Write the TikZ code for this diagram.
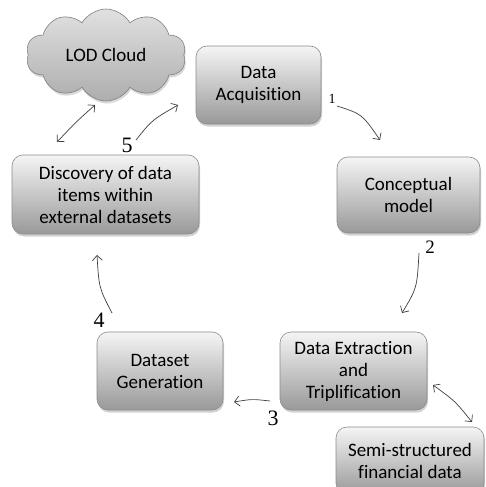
\documentclass[tikz,border=0pt]{standalone}
\usepackage{fontspec}
\setmainfont[Ligatures=NoCommon]{Carlito}
\newfontfamily\numfont{Liberation Serif}
\usetikzlibrary{shapes.symbols,shadows,arrows.meta}
\begin{document}
\begin{tikzpicture}[x=1pt,y=-1pt,
  box/.style={draw=black!45, line width=0.6pt, rounded corners=11pt,
    top color=black!4, bottom color=black!40, align=center,
    font=\fontsize{19}{22}\selectfont, inner sep=0pt,
    drop shadow={opacity=0.35, shadow xshift=1pt, shadow yshift=-2.5pt}},
  conn/.style={draw=black!75, line width=0.7pt, -{Straight Barb[length=5pt,width=10pt]}},
  dconn/.style={draw=black!75, line width=0.7pt, {Straight Barb[length=5pt,width=10pt]}-{Straight Barb[length=5pt,width=10pt]}},
  num/.style={font=\numfont\fontsize{#1}{#1}\selectfont, inner sep=0pt}]
\useasboundingbox (0,0) rectangle (485,487);
\clip (0,0) rectangle (485,487);
\fill[white] (0,0) rectangle (485,487);

\node[cloud, cloud puffs=10, cloud puff arc=120, aspect=1.8, draw=black!50, line width=0.6pt,
  top color=black!12, bottom color=black!32, minimum width=160pt, minimum height=92pt,
  font=\fontsize{19}{22}\selectfont, inner sep=0pt,
  drop shadow={opacity=0.3, shadow xshift=1pt, shadow yshift=-2.5pt}] (lod) at (106,55) {LOD Cloud};

\node[box, minimum width=125pt, minimum height=78pt] (acq) at (258.5,85) {Data\\Acquisition};
\node[box, minimum width=143pt, minimum height=76pt] (conc) at (408.5,195) {Conceptual\\model};
\node[box, minimum width=187pt, minimum height=79pt] (disc) at (105.5,194.5) {Discovery of data\\items within\\external datasets};
\node[box, minimum width=126pt, minimum height=78pt] (gen) at (160,371) {Dataset\\Generation};
\node[box, minimum width=147pt, minimum height=78pt] (ext) at (353.5,371) {Data Extraction\\and\\Triplification};
\node[box, minimum width=148pt, minimum height=67pt] (semi) at (410,460.5) {Semi-structured\\financial data};

\coordinate (a1s) at (337,106); \coordinate (a1e) at (380,140);
\coordinate (a2s) at (419,253); \coordinate (a2e) at (402,313);
\coordinate (a3s) at (270,401); \coordinate (a3e) at (234,402);
\coordinate (a4s) at (112,313); \coordinate (a4e) at (97,255);
\coordinate (a5s) at (136,140); \coordinate (a5e) at (178,105);
\coordinate (c1) at (57,142); \coordinate (c2) at (95,105);
\coordinate (s1) at (433,385); \coordinate (s2) at (472,422);

\draw[conn] (a1s) .. controls (362,114) .. (a1e);
\draw[conn] (a2s) .. controls (417,288) .. (a2e);
\draw[conn] (a3s) .. controls (252,399) .. (a3e);
\draw[conn] (a4s) .. controls (99,288) .. (a4e);
\draw[conn] (a5s) .. controls (152,120) .. (a5e);
\draw[dconn] (c1) .. controls (77,121) .. (c2);
\draw[dconn] (s1) .. controls (455,401) .. (s2);

\node[num=14] (n1) at (332,99) {1};
\node[num=19] (n2) at (430,247) {2};
\node[num=22] (n3) at (273,418) {3};
\node[num=22] (n4) at (99,320) {4};
\node[num=22] (n5) at (127,145) {5};
\end{tikzpicture}
\end{document}
